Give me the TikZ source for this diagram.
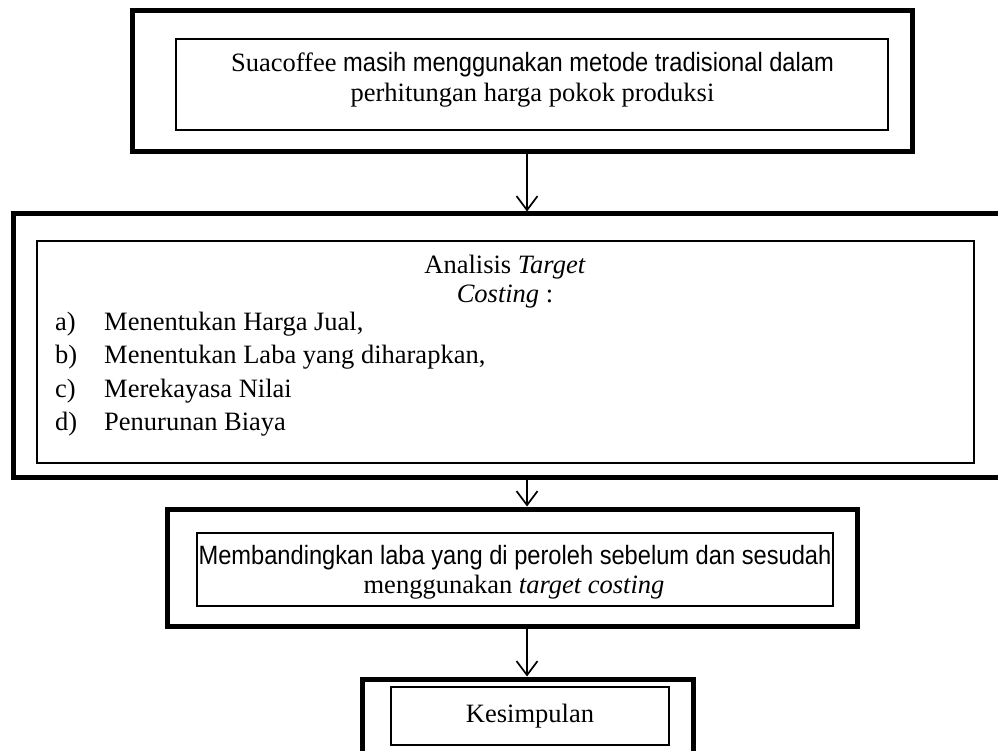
\documentclass[tikz,border=0pt]{standalone}
\usepackage{graphicx}
\usepackage{fontspec}
\setmainfont{Liberation Serif}
\newfontfamily\oddfont{Liberation Sans}
\newcommand{\oddtxt}[1]{\scalebox{0.893}[1]{\oddfont #1}}
\usetikzlibrary{arrows.meta}
\begin{document}
\begin{tikzpicture}[x=1pt,y=-1pt,
  outerbox/.style={draw, line width=5pt, inner sep=0pt},
  innerbox/.style={draw, line width=1.3pt, inner sep=0pt, outer sep=0pt},
  txt/.style={inner sep=0pt, anchor=base, font=\fontsize{26.5}{30}\selectfont},
  ltxt/.style={txt, anchor=base west},
  arr/.style={line width=1.7pt, -{Straight Barb[length=14pt,width=21pt]}}]
\useasboundingbox (0,0) rectangle (998,751);
\clip (0,0) rectangle (998,751);
\fill[white] (0,0) rectangle (998,751);
% box 1
\node[outerbox, minimum width=780pt, minimum height=141pt] (o1) at (522,81.5) {};
\node[innerbox, minimum width=712pt, minimum height=91pt] (i1) at (532,84.5) {};
\node[txt] (t1a) at (532.5,72) {Suacoffee \oddtxt{masih menggunakan metode tradisional dalam}};
\node[txt] (t1b) at (532.5,102) {perhitungan harga pokok produksi};
% box 2
\node[outerbox, minimum width=997pt, minimum height=263pt] (o2) at (511.5,345.5) {};
\node[innerbox, minimum width=937pt, minimum height=222pt] (i2) at (505.5,352) {};
\node[txt] (t2a) at (505,273) {Analisis \textit{Target}};
\node[txt] (t2b) at (505,302) {\textit{Costing} :};
\node[ltxt] (la) at (55,330) {a)};
\node[ltxt] (lb) at (55,363) {b)};
\node[ltxt] (lc) at (55,397) {c)};
\node[ltxt] (ld) at (55,430) {d)};
\node[ltxt] (ia) at (104,330) {Menentukan Harga Jual,};
\node[ltxt] (ib) at (104,363) {Menentukan Laba yang diharapkan,};
\node[ltxt] (ic) at (104,397) {Merekayasa Nilai};
\node[ltxt] (id) at (104,430) {Penurunan Biaya};
% box 3
\node[outerbox, minimum width=690pt, minimum height=117pt] (o3) at (512,567.5) {};
\node[innerbox, minimum width=636pt, minimum height=73pt] (i3) at (515,569.5) {};
\node[txt] (t3a) at (515,564) {\oddtxt{Membandingkan laba yang di peroleh sebelum dan sesudah}};
\node[txt] (t3b) at (514,593) {menggunakan \textit{target costing}};
% box 4
\node[outerbox, minimum width=331pt, minimum height=121pt] (o4) at (527.5,739.5) {};
\node[innerbox, minimum width=278pt, minimum height=58pt] (i4) at (530,716) {};
\node[txt] (t4) at (530,722) {Kesimpulan};
% arrows
\coordinate (ax) at (527,0);
\draw[arr] (o1.south -| ax) -- (o2.north -| ax);
\draw[arr] (o2.south -| ax) -- (o3.north -| ax);
\draw[arr] (o3.south -| ax) -- (o4.north -| ax);
\end{tikzpicture}
\end{document}
